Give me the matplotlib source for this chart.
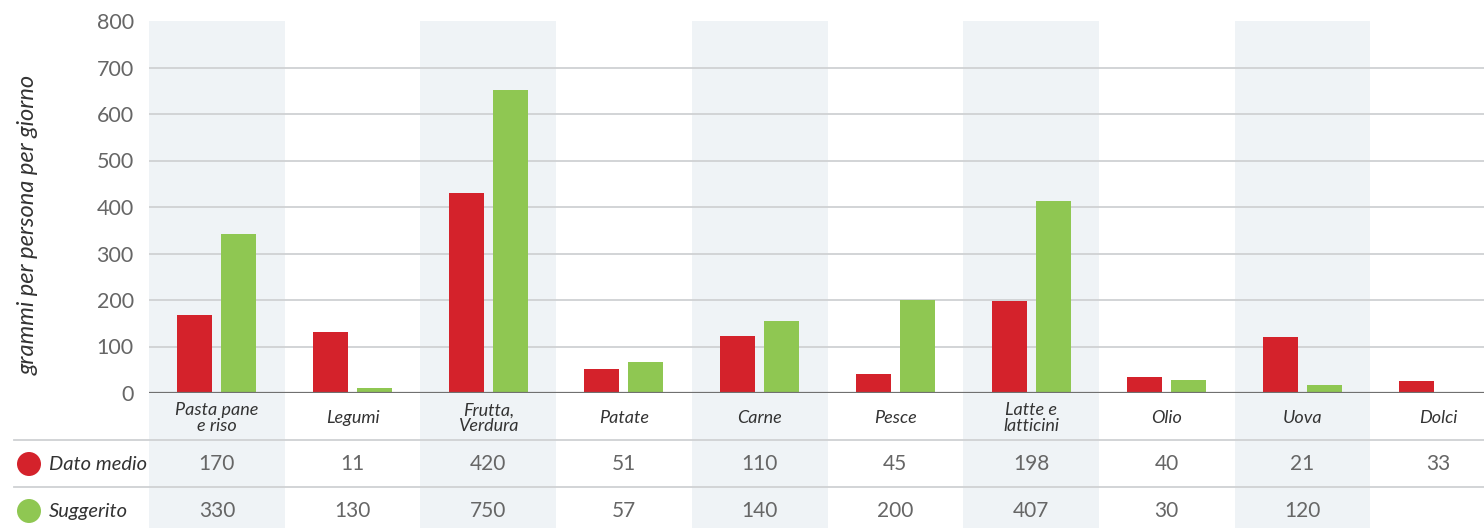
import matplotlib.pyplot as plt
from matplotlib.patches import Ellipse

plt.rcParams['font.family'] = ['Lato', 'DejaVu Sans']

categories = ['Pasta pane\ne riso', 'Legumi', 'Frutta,\nVerdura', 'Patate', 'Carne',
              'Pesce', 'Latte e\nlatticini', 'Olio', 'Uova', 'Dolci']

# bar heights (g per person per day)
dato_medio = [168, 131, 430, 52, 123, 41, 198, 34, 120, 26]
suggerito = [342, 11, 652, 67, 155, 200, 413, 28, 17, 0]

# values printed in the table rows
tab_dato = ['170', '11', '420', '51', '110', '45', '198', '40', '21', '33']
tab_sugg = ['330', '130', '750', '57', '140', '200', '407', '30', '120', '']

red = '#d4222b'
green = '#8fc752'
shade = '#eff3f6'
grid_c = '#cfd1d3'
text_c = '#666666'

W, H = 1484, 528
fig = plt.figure(figsize=(W / 100, H / 100), dpi=100)

col = 135.7          # column width in px
x0 = 149             # left edge of the first column
xmax = -0.5 + (W - x0) / col
xmin_full = -0.5 - x0 / col

# lower table area spanning the whole width
tab = fig.add_axes([0, 0, 1, 135 / H])
tab.set_xlim(xmin_full, xmax)
tab.set_ylim(0, 135)
tab.axis('off')

ax = fig.add_axes([x0 / W, 135 / H, (W - x0) / W, (393 - 21) / H])
ax.set_xlim(-0.5, xmax)
ax.set_ylim(0, 800)

for i in range(0, len(categories), 2):
    ax.axvspan(i - 0.5, i + 0.5, color=shade, lw=0, zorder=0)
    tab.axvspan(i - 0.5, i + 0.5, color=shade, lw=0, zorder=0)

for y in range(100, 800, 100):
    ax.axhline(y, color=grid_c, lw=1.3, zorder=1)
ax.axhline(0, color='#707070', lw=1.6, zorder=3)

bw = 0.258
off = 0.162
xs = range(len(categories))
ax.bar([x - off for x in xs], dato_medio, bw, color=red, zorder=2)
ax.bar([x + off for x in xs], suggerito, bw, color=green, zorder=2)

for s in ax.spines.values():
    s.set_visible(False)
ax.set_xticks([])
ax.set_yticks(range(0, 801, 100))
ax.tick_params(axis='y', length=0, pad=11, labelsize=15.5, labelcolor=text_c)
ax.set_ylabel('grammi per persona per giorno', fontsize=17, style='italic',
              color='#333333', labelpad=0)
ax.yaxis.set_label_coords(-0.083, 0.452)

# category names
for i, name in enumerate(categories):
    tab.text(i, 110, name, ha='center', va='center', fontsize=13, style='italic',
             color='#333333', linespacing=0.95)

# row separators
for y in (88, 41):
    tab.plot([xmin_full + 14 / col, xmax], [y, y], color=grid_c, lw=1.3, clip_on=False)

# table rows with legend dots
rows = [(64, 'Dato medio', red, tab_dato), (17, 'Suggerito', green, tab_sugg)]
for y, label, c, vals in rows:
    tab.add_patch(Ellipse((xmin_full + 29 / col, y), 24 / col, 24, color=c, lw=0))
    tab.text(xmin_full + 49 / col, y, label, ha='left', va='center', fontsize=14.5,
             style='italic', color='#333333')
    for i, v in enumerate(vals):
        tab.text(i, y, v, ha='center', va='center', fontsize=15, color=text_c)

fig.savefig('out.png', dpi=100)
